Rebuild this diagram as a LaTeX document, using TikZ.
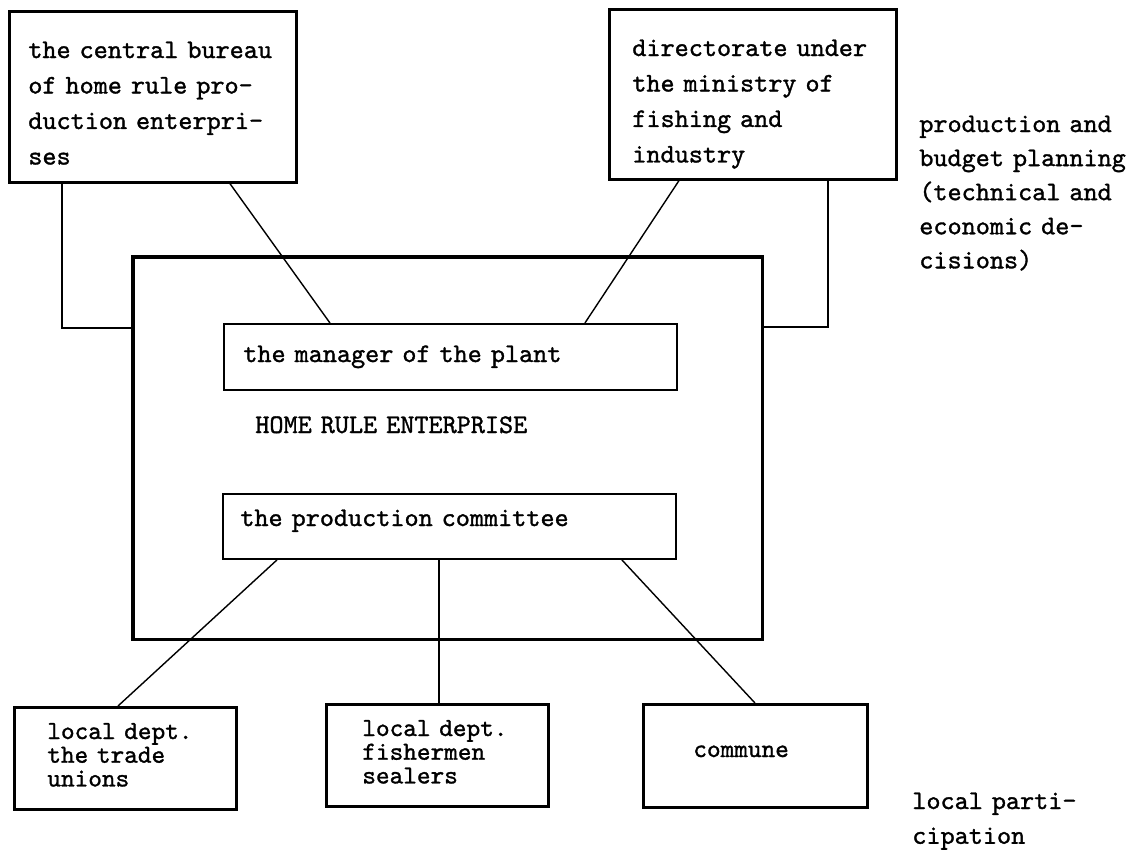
\documentclass[tikz,border=0pt]{standalone}
\usepackage{fontspec}
\newfontfamily\tw{lmmono10-regular}[Extension=.otf,FakeBold=1.2]
\begin{document}
\begin{tikzpicture}[x=0.02cm,y=-0.02cm,
  box/.style={draw,line width=1.5pt,inner sep=0pt,anchor=north west},
  bigbox/.style={draw,line width=2pt,inner sep=0pt,anchor=north west},
  conn/.style={draw,line width=0.8pt},
  txt/.style={inner sep=0pt,anchor=base west,align=left,text width=12cm},
  wide/.style={txt,font=\tw\fontsize{15.3pt}{20.2pt}\selectfont},
  side/.style={txt,font=\tw\fontsize{15.3pt}{19.4pt}\selectfont},
  tight/.style={txt,font=\tw\fontsize{14.8pt}{13.5pt}\selectfont},
  lp/.style={txt,font=\tw\fontsize{15.3pt}{19.8pt}\selectfont}]
\useasboundingbox (0,0) rectangle (1144,850);

% boxes
\node[box,minimum width=5.74cm,minimum height=3.42cm] (b1) at (8,10) {};
\node[box,minimum width=5.74cm,minimum height=3.40cm] (b2) at (608,8) {};
\node[bigbox,minimum width=12.6cm,minimum height=7.66cm] (big) at (131,255) {};
\node[box,line width=1.1pt,minimum width=9.06cm,minimum height=1.32cm] (mgr) at (223,323) {};
\node[box,line width=1.1pt,minimum width=9.06cm,minimum height=1.30cm] (prod) at (222,493) {};
\node[box,minimum width=4.44cm,minimum height=2.04cm] (bA) at (13,706) {};
\node[box,minimum width=4.44cm,minimum height=2.04cm] (bB) at (325,703) {};
\node[box,minimum width=4.48cm,minimum height=2.06cm] (bC) at (642,703) {};

% texts
\node[wide] (t1) at (28,58) {the central bureau\\of home rule pro-\\duction enterpri-\\ses};
\node[wide] (t2) at (632,56) {directorate under\\the ministry of\\fishing and\\industry};
\node[side] (tr) at (919,132) {production and\\budget planning\\(technical and\\economic de-\\cisions)};
\node[wide] (tm) at (243,362) {the manager of the plant};
\node[wide] (th) at (255,433) {HOME RULE ENTERPRISE};
\node[wide] (tp) at (240,526) {the production committee};
\node[tight] (tA) at (47,739) {local dept.\\the trade\\unions};
\node[tight] (tB) at (362,736) {local dept.\\fishermen\\sealers};
\node[tight] (tC) at (693,757) {commune};
\node[lp] (tL) at (912,809) {local parti-\\cipation};

% connectors
\draw[conn] ([xshift=1.08cm]b1.south west) |- ([yshift=-1.46cm]big.north west);
\draw[conn] ([xshift=4.44cm]b1.south west) -- ([xshift=2.14cm]mgr.north west);
\draw[conn] ([xshift=1.42cm]b2.south west) -- ([xshift=7.24cm]mgr.north west);
\draw[conn] ([xshift=4.4cm]b2.south west) |- ([yshift=-1.44cm]big.north east);
\draw[conn] ([xshift=1.1cm]prod.south west) -- ([xshift=2.1cm]bA.north west);
\draw[conn] ([xshift=4.34cm]prod.south west) -- ([xshift=4.34cm]prod.south west |- bB.north);
\draw[conn] ([xshift=8cm]prod.south west) -- ([xshift=2.26cm]bC.north west);
\end{tikzpicture}
\end{document}
